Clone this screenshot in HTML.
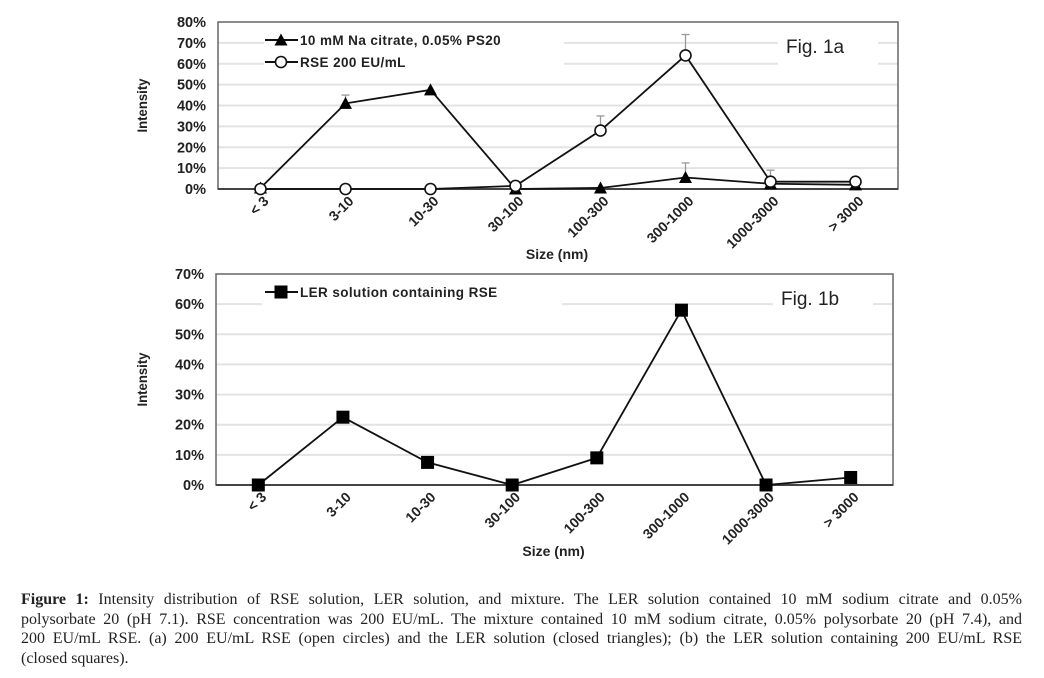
<!DOCTYPE html>
<html><head><meta charset="utf-8"><style>
html,body{margin:0;padding:0;background:#fff;width:1044px;height:678px;overflow:hidden}
svg{position:absolute;left:0;top:0}
.cap{position:absolute;left:21px;top:590px;width:1001px;font-family:"Liberation Serif",serif;font-size:16px;line-height:19.6px;color:#222}
.cap div{text-align:justify;text-align-last:justify;white-space:nowrap;height:19.6px}
.cap div.last{text-align-last:left}
</style></head><body>
<svg id="fig" width="1044" height="580" xmlns="http://www.w3.org/2000/svg" font-family="Liberation Sans, sans-serif"></svg>
<div class="cap">
<div style="white-space:normal"><b>Figure 1:</b> Intensity distribution of RSE solution, LER solution, and mixture. The LER solution contained 10 mM sodium citrate and 0.05%</div>
<div style="white-space:normal">polysorbate 20 (pH 7.1). RSE concentration was 200 EU/mL. The mixture contained 10 mM sodium citrate, 0.05% polysorbate 20 (pH 7.4), and</div>
<div style="white-space:normal">200 EU/mL RSE. (a) 200 EU/mL RSE (open circles) and the LER solution (closed triangles); (b) the LER solution containing 200 EU/mL RSE</div>
<div class="last">(closed squares).</div>
</div>
<script>
const categories = ["< 3","3-10","10-30","30-100","100-300","300-1000","1000-3000","> 3000"];
const citrateValues = [0.5,41,47.5,0,0.5,5.5,2.5,2];
const citrateErrTop = [0,45,0,0,0,12.5,0,0];
const rseValues = [0,0,0,1.5,28,64,3.5,3.5];
const rseErrTop = [0,0,0,0,35,74,9,5];
const mixValues = [0,22.5,7.5,0,9,58,0,2.5];
const ticksA = [0,10,20,30,40,50,60,70,80];
const ticksB = [0,10,20,30,40,50,60,70];

const svg = document.getElementById('fig');
const NS = 'http://www.w3.org/2000/svg';
function mk(tag, attrs, parent){ const e=document.createElementNS(NS,tag); for(const k in attrs) e.setAttribute(k,attrs[k]); (parent||svg).appendChild(e); return e; }

function chart(cfg){
  const g = mk('g',{});
  
  
  const {L,R,T,B,max} = cfg;
  const bw = (R-L)/categories.length;
  const x = i => L + (i+0.5)*bw;
  const y = v => B - v/max*(B-T);
  cfg.ticks.forEach(t=>{
    if(t>0 && t<max){
      const gl = mk('line',{x1:L,x2:R,y1:y(t),y2:y(t),stroke:'#e3e3e3','stroke-width':2},g);
      
      
    }
    const tl = mk('text',{x:L-12,y:y(t)+5,'text-anchor':'end','font-size':14.5,'font-weight':'bold',fill:'#222'},g);
    tl.textContent = t+'%';
    
    
  });
  mk('rect',{x:L+46,y:T+6,width:cfg.legW,height:cfg.legH,fill:'#fff'},g);
  mk('rect',{x:R-120,y:T+6,width:100,height:40,fill:'#fff'},g);
  const frame = mk('rect',{x:L,y:T,width:R-L,height:B-T,fill:'none',stroke:'#666','stroke-width':1.5},g);
  
  
  mk('line',{x1:L,x2:R,y1:B,y2:B,stroke:'#444','stroke-width':2},g);
  categories.forEach((c,i)=>{
    const ax = x(i)+9, ay = B+13;
    const t = mk('text',{x:ax,y:ay,'text-anchor':'end','font-size':14,'font-weight':'bold',fill:'#222',transform:`rotate(-45 ${ax} ${ay})`},g);
    t.textContent = c;
    
    
  });
  const xt = mk('text',{x:(L+R)/2-1,y:cfg.xtY,'text-anchor':'middle','font-size':14,'font-weight':'bold',fill:'#222'},g);
  xt.textContent='Size (nm)';
  
  
  const yt = mk('text',{x:147,y:(T+B)/2,'text-anchor':'middle','font-size':14,'font-weight':'bold',fill:'#222',transform:`rotate(-90 147 ${(T+B)/2})`,'textLength':54,'lengthAdjust':'spacingAndGlyphs'},g);
  yt.textContent='Intensity';
  
  
  const ft = mk('text',{x:R-112,y:T+31,'font-size':19,fill:'#222'},g);
  ft.textContent = cfg.fig;
  
  
  cfg.series.forEach((s,si)=>{
    const sg = mk('g',{},g);
    
    
    if(s.err) s.err.forEach((e,i)=>{ if(e>s.vals[i]){
      mk('line',{x1:x(i),x2:x(i),y1:y(s.vals[i]),y2:y(e),stroke:'#999','stroke-width':1.3},sg);
      mk('line',{x1:x(i)-4,x2:x(i)+4,y1:y(e),y2:y(e),stroke:'#999','stroke-width':1.3},sg);
    }});
    mk('polyline',{points:s.vals.map((v,i)=>x(i)+','+y(v)).join(' '),fill:'none',stroke:'#111','stroke-width':1.8},sg);
    const marker=(cx,cy,par)=>{
      if(s.m==='tri') return mk('polygon',{points:`${cx-6.5},${cy+5.5} ${cx+6.5},${cy+5.5} ${cx},${cy-6.5}`,fill:'#000'},par);
      if(s.m==='circ') return mk('circle',{cx:cx,cy:cy,r:5.5,fill:'#fff',stroke:'#111','stroke-width':1.6},par);
      return mk('rect',{x:cx-6.5,y:cy-6.5,width:13,height:13,fill:'#000'},par);
    };
    s.vals.forEach((v,i)=>{
      const m = marker(x(i),y(v),sg);
      
      
    });
    const ly = T+18+si*22;
    const lg = mk('g',{},g);
    
    
    mk('line',{x1:265,x2:298,y1:ly,y2:ly,stroke:'#111','stroke-width':2},lg);
    marker(281,ly,lg);
    const lt = mk('text',{x:300,y:ly+5,'font-size':13.5,'font-weight':'bold',fill:'#222','letter-spacing':0.4},lg);
    lt.textContent = s.label;
  });
}
chart({name:'chart-fig-1a',L:218,R:898,T:22,B:189,max:80,ticks:ticksA,legW:300,legH:50,xtY:259,fig:'Fig. 1a',
  series:[{name:'series-citrate',vals:citrateValues,err:citrateErrTop,m:'tri',label:'10 mM Na citrate, 0.05%  PS20'},
          {name:'series-rse',vals:rseValues,err:rseErrTop,m:'circ',label:'RSE 200 EU/mL'}]});
chart({name:'chart-fig-1b',L:216,R:893,T:274,B:485,max:70,ticks:ticksB,legW:300,legH:26,xtY:556,fig:'Fig. 1b',
  series:[{name:'series-ler-rse',vals:mixValues,m:'sq',label:'LER solution containing RSE'}]});
</script>
</body></html>
